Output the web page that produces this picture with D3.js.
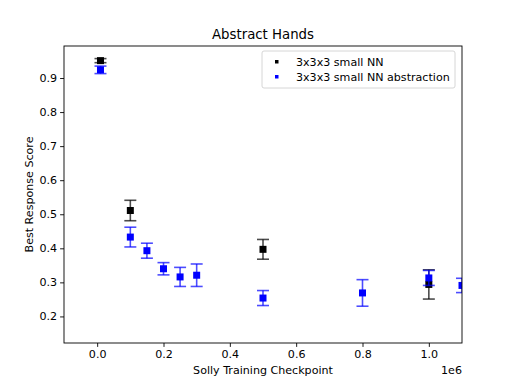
<!DOCTYPE html>
<meta charset="utf-8">
<style>
    body { margin: 0; background: #fff; }
    svg { font-family: "DejaVu Sans", sans-serif; }
</style>
<svg width="513" height="385"></svg>
<script src="https://d3js.org/d3.v7.min.js"></script>
<script>
    // data
    var smallX    = [10000, 100000, 500000, 1000000];
    var smallY    = [0.951, 0.511, 0.397, 0.294];
    var smallErr  = [0.006, 0.030, 0.029, 0.043];

    var absX   = [10000, 100000, 150000, 200000, 250000, 300000, 500000, 800000, 1000000, 1100000];
    var absY   = [0.924, 0.433, 0.393, 0.340, 0.316, 0.321, 0.254, 0.269, 0.313, 0.291];
    var absErr = [0.011, 0.029, 0.022, 0.018, 0.028, 0.033, 0.022, 0.039, 0.022, 0.021];

    var xTicks = [0, 200000, 400000, 600000, 800000, 1000000];
    var yTicks = [0.2, 0.3, 0.4, 0.5, 0.6, 0.7, 0.8, 0.9];

    var series = [
        {name: "3x3x3 small NN", color: "#000000", xs: smallX, ys: smallY, err: smallErr},
        {name: "3x3x3 small NN abstraction", color: "#0000ff", xs: absX, ys: absY, err: absErr}
    ];

    var svg = d3.select("svg"),
        margin = {top: 46, right: 51, bottom: 42, left: 64},
        width = 513 - margin.left - margin.right,
        height = 385 - margin.top - margin.bottom,
        g = svg.append("g").attr("transform", "translate(" + margin.left + "," + margin.top + ")");

    var x = d3.scaleLinear().domain([-100000, 1100000]).range([0, width]);
    var y = d3.scaleLinear().domain([0.122, 0.994]).range([height, 0]);

    // clip so the point at the right edge gets cut like the original
    svg.append("clipPath").attr("id", "clip")
        .append("rect").attr("width", width).attr("height", height);

    var plot = g.append("g").attr("clip-path", "url(#clip)");
    var capW = 6, sq = 7;

    series.forEach(function (s) {
        var pts = s.xs.map(function (d, i) { return {x: d, y: s.ys[i], e: s.err[i]}; });
        var eb = plot.append("g").attr("stroke", s.color).attr("stroke-opacity", 0.7)
            .attr("stroke-width", 1.6);
        eb.selectAll(".v").data(pts).enter().append("line")
            .attr("x1", d => x(d.x)).attr("x2", d => x(d.x))
            .attr("y1", d => y(d.y - d.e)).attr("y2", d => y(d.y + d.e));
        eb.selectAll(".t").data(pts).enter().append("line")
            .attr("x1", d => x(d.x) - capW).attr("x2", d => x(d.x) + capW)
            .attr("y1", d => y(d.y + d.e)).attr("y2", d => y(d.y + d.e));
        eb.selectAll(".b").data(pts).enter().append("line")
            .attr("x1", d => x(d.x) - capW).attr("x2", d => x(d.x) + capW)
            .attr("y1", d => y(d.y - d.e)).attr("y2", d => y(d.y - d.e));
        plot.append("g").selectAll("rect").data(pts).enter().append("rect")
            .attr("x", d => x(d.x) - sq / 2).attr("y", d => y(d.y) - sq / 2)
            .attr("width", sq).attr("height", sq)
            .attr("fill", s.color);
    });

    // axes
    var xAxis = g.append("g")
        .attr("transform", "translate(0," + height + ")")
        .call(d3.axisBottom(x).tickValues(xTicks).tickSize(3.9).tickPadding(3)
            .tickFormat(d => (d / 1e6).toFixed(1)));
    var yAxis = g.append("g")
        .call(d3.axisLeft(y).tickValues(yTicks).tickSize(3.9).tickPadding(3)
            .tickFormat(d3.format(".1f")));
    [xAxis, yAxis].forEach(function (a) {
        a.selectAll("text").attr("font-size", 11.1).attr("font-family", "DejaVu Sans").attr("fill", "#000");
        a.selectAll("line").attr("stroke", "#000").attr("stroke-width", 0.9);
        a.select(".domain").remove();
    });

    g.append("rect").attr("width", width).attr("height", height)
        .attr("fill", "none").attr("stroke", "#000").attr("stroke-width", 0.9);

    // titles
    svg.append("text").attr("x", margin.left + width / 2).attr("y", 39)
        .attr("text-anchor", "middle").attr("font-size", 13.3).text("Abstract Hands");
    svg.append("text").attr("x", margin.left + width / 2).attr("y", 374)
        .attr("text-anchor", "middle").attr("font-size", 11.1).text("Solly Training Checkpoint");
    svg.append("text").attr("x", margin.left + width).attr("y", 374)
        .attr("text-anchor", "end").attr("font-size", 11.1).text("1e6");
    svg.append("text")
        .attr("transform", "translate(33," + (margin.top + height / 2) + ") rotate(-90)")
        .attr("text-anchor", "middle").attr("font-size", 11.1).text("Best Response Score");

    // legend
    var leg = svg.append("g").attr("transform", "translate(262,51)");
    leg.append("rect").attr("width", 193).attr("height", 37).attr("rx", 2)
        .attr("fill", "#fff").attr("fill-opacity", 0.8)
        .attr("stroke", "#cccccc").attr("stroke-width", 0.8);
    series.forEach(function (s, i) {
        leg.append("rect").attr("x", 13).attr("y", 9 + i * 15).attr("width", 3.5).attr("height", 3.5)
            .attr("fill", s.color);
        leg.append("text").attr("x", 34).attr("y", 15 + i * 15)
            .attr("font-size", 11.1).text(s.name);
    });
</script>
